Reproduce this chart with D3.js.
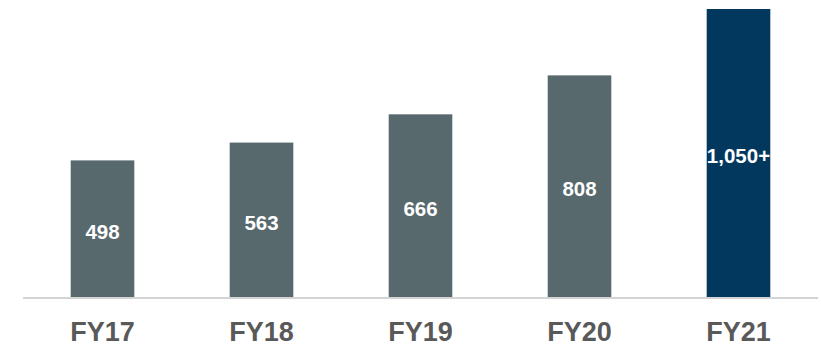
<!DOCTYPE html>
<html>
<head>
<meta charset="utf-8">
<script src="https://cdn.jsdelivr.net/npm/d3@7"></script>
<style>
  html, body { margin: 0; padding: 0; background: #ffffff; }
  svg { display: block; }
</style>
</head>
<body>
<svg id="chart" width="821" height="354"></svg>
<script>
// Fiscal years and their totals
const years = ["FY17", "FY18", "FY19", "FY20", "FY21"];
const values = [498, 563, 666, 808, 1050];
const valueLabels = ["498", "563", "666", "808", "1,050+"];

const svg = d3.select("#chart");
const baseY = 297;

const x = d3.scaleBand()
  .domain(years)
  .range([23, 818])
  .paddingInner(0.6)
  .paddingOuter(0.3);

const y = d3.scaleLinear()
  .domain([0, 1050])
  .range([baseY, 9]);

const barColor = (d, i) => i === years.length - 1 ? "#03385e" : "#58696e";

const bars = svg.append("g");
bars.selectAll("rect")
  .data(values)
  .join("rect")
  .attr("x", (d, i) => x(years[i]))
  .attr("y", d => y(d))
  .attr("width", x.bandwidth())
  .attr("height", d => baseY - y(d))
  .attr("fill", barColor);

// Baseline
svg.append("line")
  .attr("x1", 23).attr("x2", 818)
  .attr("y1", baseY + 1).attr("y2", baseY + 1)
  .attr("stroke", "#d4d4d4")
  .attr("stroke-width", 2);

// Value labels inside bars
svg.append("g").selectAll("text")
  .data(values)
  .join("text")
  .attr("x", (d, i) => x(years[i]) + x.bandwidth() / 2)
  .attr("y", d => (y(d) + baseY) / 2 + 2.5)
  .attr("dy", "0.36em")
  .attr("text-anchor", "middle")
  .attr("font-family", "'Liberation Sans', Arial, sans-serif")
  .attr("font-weight", "bold")
  .attr("font-size", 20.5)
  .attr("fill", "#ffffff")
  .text((d, i) => valueLabels[i]);

// Category axis
const axis = d3.axisBottom(x).tickSize(0).tickPadding(0);
const ag = svg.append("g")
  .attr("transform", `translate(0, ${baseY})`)
  .call(axis);
ag.select(".domain").remove();
ag.selectAll("text")
  .attr("y", 44)
  .attr("dy", 0)
  .attr("font-family", "'Liberation Sans', Arial, sans-serif")
  .attr("font-weight", "bold")
  .attr("font-size", 27)
  .attr("fill", "#595959");
</script>
</body>
</html>
